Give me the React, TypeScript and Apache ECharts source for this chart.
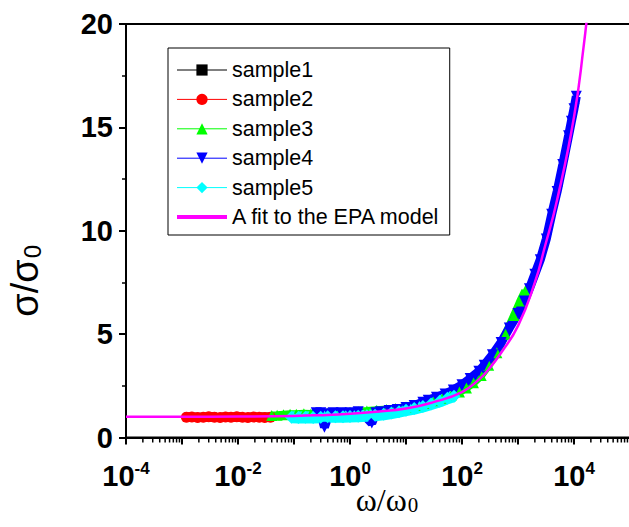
import React, { useEffect, useRef } from "react";
import * as echarts from "echarts";

// ---------- data ----------
const seriesNames = ["sample1", "sample2", "sample3", "sample4", "sample5", "A fit to the EPA model"];

const sample1X = [0.0013, 0.002, 0.0035, 0.006, 0.01, 0.018, 0.03];
const sample1Y = [0.99, 0.98, 0.99, 0.98, 0.99, 0.98, 0.99];

const sample2X = [0.0012, 0.0015, 0.0019, 0.0024, 0.003, 0.0038, 0.0048, 0.006, 0.0075, 0.0095, 0.012, 0.015, 0.019, 0.024, 0.03, 0.038];
const sample2Y = [0.98, 0.99, 0.97, 0.98, 1.0, 0.98, 0.97, 0.99, 0.98, 1.0, 0.98, 0.97, 0.99, 0.98, 0.97, 0.98];

const sample3X = [0.04, 0.05, 0.065, 0.085, 0.11, 0.15, 0.2, 0.28, 0.4, 0.55, 0.75, 1, 1.4, 2, 3, 4.5, 6.5, 10, 15, 22, 32, 45, 65, 90, 120, 160, 220, 300, 420, 600, 850, 1100, 1350];
const sample3Y = [1.07, 1.08, 1.1, 1.12, 1.13, 1.15, 1.14, 1.15, 1.17, 1.18, 1.2, 1.22, 1.25, 1.28, 1.32, 1.36, 1.4, 1.47, 1.55, 1.65, 1.78, 1.9, 2.05, 2.2, 2.4, 2.65, 3.0, 3.5, 4.1, 5.0, 5.9, 6.6, 7.1];

const sample4X = [0.25, 0.3, 0.35, 0.42, 0.5, 0.7, 1, 1.4, 2, 2.45, 2.9, 3.5, 5, 7, 10, 14, 20, 25, 35, 50, 70, 100, 140, 200, 250, 350, 500, 700, 1000, 1300, 1600, 2000, 2500, 3200, 4000, 5000, 6300, 8000, 9000, 10000, 11000];
const sample4Y = [1.2, 1.2, 0.5, 1.15, 1.2, 1.2, 1.2, 1.25, 0.95, 0.7, 1.2, 1.25, 1.3, 1.35, 1.45, 1.55, 1.7, 1.8, 1.95, 2.1, 2.3, 2.55, 2.85, 3.2, 3.5, 4.0, 4.6, 5.3, 6.0, 6.6, 7.2, 7.9, 8.6, 9.6, 10.8, 11.9, 13.2, 14.6, 15.3, 15.9, 16.5];

const sample5X = [0.09, 0.12, 0.16, 0.22, 0.3, 0.4, 0.55, 0.75, 1, 1.4, 2, 2.8, 4, 5.5, 7.5, 10, 14, 20, 28, 40, 55, 72];
const sample5Y = [0.98, 0.97, 0.98, 0.97, 0.98, 1.0, 1.0, 1.0, 1.02, 1.03, 1.05, 1.08, 1.12, 1.18, 1.25, 1.32, 1.4, 1.5, 1.62, 1.75, 1.9, 2.0];

const fitX = [0.0001, 0.001, 0.01, 0.1, 0.3, 1, 3, 10, 30, 100, 200, 300, 500, 1000, 2000, 3000, 5000, 10000, 15000, 18000];
const fitY = [1.0, 1.0, 1.01, 1.04, 1.08, 1.15, 1.25, 1.4, 1.7, 2.2, 2.8, 3.3, 4.1, 5.4, 7.5, 9.2, 11.5, 15.5, 19.0, 21.0];

const yTicks = [0, 5, 10, 15, 20];
const xMin = 1e-4;
const xMax = 1e5;

const SANS = "'Liberation Sans', Arial, sans-serif";
const SERIF = "'Liberation Serif', 'Times New Roman', serif";

const pairs = (xs: number[], ys: number[]) => xs.map((x, i) => [x, ys[i]]);

// minor tick positions of the log axis (2..9 x each decade)
const minorTickValues: number[][] = [];
for (let e = -4; e < 5; e++) {
  for (let k = 2; k <= 9; k++) minorTickValues.push([k * Math.pow(10, e), 0]);
}

export default function App() {
  const ref = useRef<HTMLDivElement>(null);
  useEffect(() => {
    if (!ref.current) return;
    const chart = echarts.init(ref.current, null, { renderer: "svg" });
    const sampleSeries = (
      name: string,
      xs: number[],
      ys: number[],
      color: string,
      symbol: string,
      size: number,
      lw: number,
      rotate = 0
    ) => ({
      name,
      type: "line",
      data: pairs(xs, ys),
      symbol,
      symbolSize: size,
      symbolRotate: rotate,
      showSymbol: true,
      itemStyle: { color },
      lineStyle: { color, width: lw },
      silent: true,
    });
    const option: any = {
      animation: false,
      backgroundColor: "#fff",
      grid: {
        left: 126,
        top: 24,
        width: 504,
        height: 413.5,
        show: true,
        borderColor: "#000",
        borderWidth: 2,
        containLabel: false,
        outerBoundsMode: "none",
      },
      legend: {
        orient: "vertical",
        left: 168,
        top: 48,
        itemWidth: 50,
        itemHeight: 14,
        itemGap: 7.4,
        padding: [11, 9, 7, 7],
        borderColor: "#000",
        borderWidth: 1,
        backgroundColor: "#fff",
        selectedMode: false,
        textStyle: { fontFamily: SANS, fontSize: 21.5, color: "#000", lineHeight: 22 },
        lineStyle: { width: 1 },
        data: [
          { name: seriesNames[0] },
          { name: seriesNames[1] },
          { name: seriesNames[2] },
          { name: seriesNames[3] },
          { name: seriesNames[4] },
          { name: seriesNames[5], lineStyle: { width: 4 }, itemStyle: { opacity: 0 } },
        ],
      },
      xAxis: {
        type: "log",
        logBase: 10,
        min: xMin,
        max: xMax,
        name: "{a|ω/ω}{sub|0}",
        nameLocation: "middle",
        nameGap: 46,
        nameMoveOverlap: false,
        nameTextStyle: {
          padding: [0, 0, 0, 18],
          rich: {
            a: { fontFamily: SERIF, fontSize: 32, color: "#000", lineHeight: 32 },
            sub: { fontFamily: SERIF, fontSize: 21, color: "#000", verticalAlign: "bottom", padding: [0, 0, 0, 1] },
          },
        },
        axisLine: { show: true, lineStyle: { color: "#000", width: 2 } },
        axisTick: { show: true, inside: false, length: 7, lineStyle: { color: "#000", width: 2 } },
        minorTick: { show: false },
        splitLine: { show: false },
        axisLabel: {
          margin: 22,
          showMaxLabel: true,
          formatter: (v: number) => {
            const e = Math.round(Math.log10(v));
            return e % 2 === 0 && e < 5 ? `{b|10}{s|${e}}` : "";
          },
          rich: {
            b: { fontFamily: SANS, fontWeight: "bold", fontSize: 29, color: "#000", lineHeight: 32 },
            s: { fontFamily: SANS, fontWeight: "bold", fontSize: 17, color: "#000", verticalAlign: "top", lineHeight: 18 },
          },
        },
      },
      yAxis: {
        type: "value",
        min: 0,
        max: 20,
        interval: 5,
        name: "{a|σ/σ}{sub|0}",
        nameLocation: "middle",
        nameGap: 82,
        nameRotate: 90,
        nameMoveOverlap: false,
        nameTextStyle: {
          padding: [0, 100, 0, 0],
          rich: {
            a: { fontFamily: SANS, fontSize: 38, color: "#000", lineHeight: 38 },
            sub: { fontFamily: SANS, fontSize: 24, color: "#000", verticalAlign: "bottom", padding: [0, 0, 0, 1] },
          },
        },
        axisLine: { show: true, lineStyle: { color: "#000", width: 2 } },
        axisTick: { show: true, inside: false, length: 7, lineStyle: { color: "#000", width: 2 } },
        minorTick: { show: true, splitNumber: 2, length: 4, lineStyle: { color: "#000", width: 1.5 } },
        splitLine: { show: false },
        axisLabel: {
          margin: 13,
          fontFamily: SANS,
          fontWeight: "bold",
          fontSize: 29,
          color: "#000",
          formatter: (v: number) => (yTicks.includes(v) ? String(v) : ""),
        },
      },
      series: [
        sampleSeries(seriesNames[0], sample1X, sample1Y, "#000000", "rect", 9, 5),
        sampleSeries(seriesNames[1], sample2X, sample2Y, "#ff0000", "circle", 11, 9),
        sampleSeries(seriesNames[2], sample3X, sample3Y, "#00ff00", "triangle", 11, 8),
        sampleSeries(seriesNames[3], sample4X, sample4Y, "#0000ff", "triangle", 11, 9, 180),
        sampleSeries(seriesNames[4], sample5X, sample5Y, "#00ffff", "diamond", 13, 12),
        {
          name: seriesNames[5],
          type: "line",
          data: pairs(fitX, fitY),
          symbol: "none",
          smooth: true,
          lineStyle: { color: "#ff00ff", width: 2.5 },
          itemStyle: { color: "#ff00ff" },
          silent: true,
          z: 5,
        },
        {
          type: "custom",
          silent: true,
          clip: false,
          data: minorTickValues,
          renderItem: (params: any, api: any) => {
            const p = api.coord([api.value(0), 0]);
            return {
              type: "line",
              shape: { x1: p[0], y1: p[1] + 1, x2: p[0], y2: p[1] + 5 },
              style: { stroke: "#000", lineWidth: 1.5 },
            };
          },
          z: 6,
        },
      ],
    };
    chart.setOption(option);
    return () => chart.dispose();
  }, []);
  return (
    <div
      ref={ref}
      style={{ position: "fixed", left: 0, top: 0, width: 629, height: 527, background: "#fff" }}
    />
  );
}
